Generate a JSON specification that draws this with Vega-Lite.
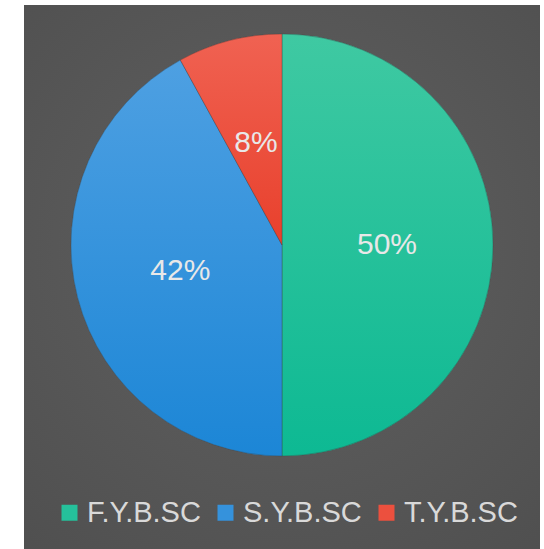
{
  "$schema": "https://vega.github.io/schema/vega-lite/v6.json",
  "width": 516,
  "height": 544,
  "autosize": "none",
  "padding": {"left": 24, "top": 5, "right": 4, "bottom": 0},
  "background": "white",
  "view": {
    "stroke": null,
    "fill": {
      "gradient": "radial",
      "x1": 0.5, "y1": 0.45, "x2": 0.5, "y2": 0.45, "r1": 0, "r2": 0.75,
      "stops": [{"offset": 0, "color": "#616161"}, {"offset": 1, "color": "#4f4f4f"}]
    }
  },
  "data": {
    "values": [
      {"course": "F.Y.B.SC", "share": 50, "label": "50%"},
      {"course": "S.Y.B.SC", "share": 42, "label": "42%"},
      {"course": "T.Y.B.SC", "share": 8, "label": "8%"}
    ]
  },
  "transform": [
    {"stack": "share", "groupby": [], "as": ["s0", "s1"], "sort": [{"field": "course", "order": "ascending"}]}
  ],
  "layer": [
    {
      "mark": {"type": "arc", "outerRadius": 211, "yOffset": -32},
      "encoding": {
        "theta": {"field": "s0", "type": "quantitative", "scale": {"domain": [0, 100]}},
        "theta2": {"field": "s1"},
        "color": {
          "field": "course",
          "type": "nominal",
          "scale": {
            "domain": ["F.Y.B.SC", "S.Y.B.SC", "T.Y.B.SC"],
            "range": ["#25c19b", "#3592dc", "#ec503e"]
          },
          "legend": {
            "orient": "none",
            "direction": "horizontal",
            "legendX": 31,
            "legendY": 493,
            "title": null,
            "padding": 0,
            "symbolType": "square",
            "symbolSize": 256,
            "symbolStrokeWidth": 0,
            "symbolOpacity": 1,
            "labelFontSize": 29,
            "labelFont": "Liberation Sans",
            "labelColor": "#d9d9d9",
            "labelOffset": 3,
            "columnPadding": 10,
            "labelLimit": 300
          }
        }
      }
    },
    {
      "transform": [{"filter": "datum.course === 'F.Y.B.SC'"}],
      "mark": {"type": "arc", "outerRadius": 211, "yOffset": -32, "stroke": "#3d3d3d", "strokeWidth": 0.6, "strokeOpacity": 0.6,
        "fill": {"gradient": "linear", "x1": 0, "y1": 0, "x2": 0, "y2": 1, "stops": [{"offset": 0, "color": "#3fc9a2"}, {"offset": 1, "color": "#0db993"}]}},
      "encoding": {
        "theta": {"field": "s0", "type": "quantitative"},
        "theta2": {"field": "s1"}
      }
    },
    {
      "transform": [{"filter": "datum.course === 'S.Y.B.SC'"}],
      "mark": {"type": "arc", "outerRadius": 211, "yOffset": -32, "stroke": "#3d3d3d", "strokeWidth": 0.6, "strokeOpacity": 0.6,
        "fill": {"gradient": "linear", "x1": 0, "y1": 0, "x2": 0, "y2": 1, "stops": [{"offset": 0, "color": "#4ea0e2"}, {"offset": 1, "color": "#1c86d6"}]}},
      "encoding": {
        "theta": {"field": "s0", "type": "quantitative"},
        "theta2": {"field": "s1"}
      }
    },
    {
      "transform": [{"filter": "datum.course === 'T.Y.B.SC'"}],
      "mark": {"type": "arc", "outerRadius": 211, "yOffset": -32, "stroke": "#3d3d3d", "strokeWidth": 0.6, "strokeOpacity": 0.6,
        "fill": {"gradient": "linear", "x1": 0, "y1": 0, "x2": 0, "y2": 1, "stops": [{"offset": 0, "color": "#f06252"}, {"offset": 1, "color": "#e8402c"}]}},
      "encoding": {
        "theta": {"field": "s0", "type": "quantitative"},
        "theta2": {"field": "s1"}
      }
    },
    {
      "mark": {"type": "text", "radius": 105, "yOffset": -32, "fontSize": 30, "font": "Liberation Sans", "color": "#e8e8e8", "baseline": "middle", "align": "center"},
      "encoding": {
        "theta": {"field": "share", "type": "quantitative", "stack": true},
        "order": {"field": "course", "sort": "ascending"},
        "text": {"field": "label"}
      }
    }
  ]
}
